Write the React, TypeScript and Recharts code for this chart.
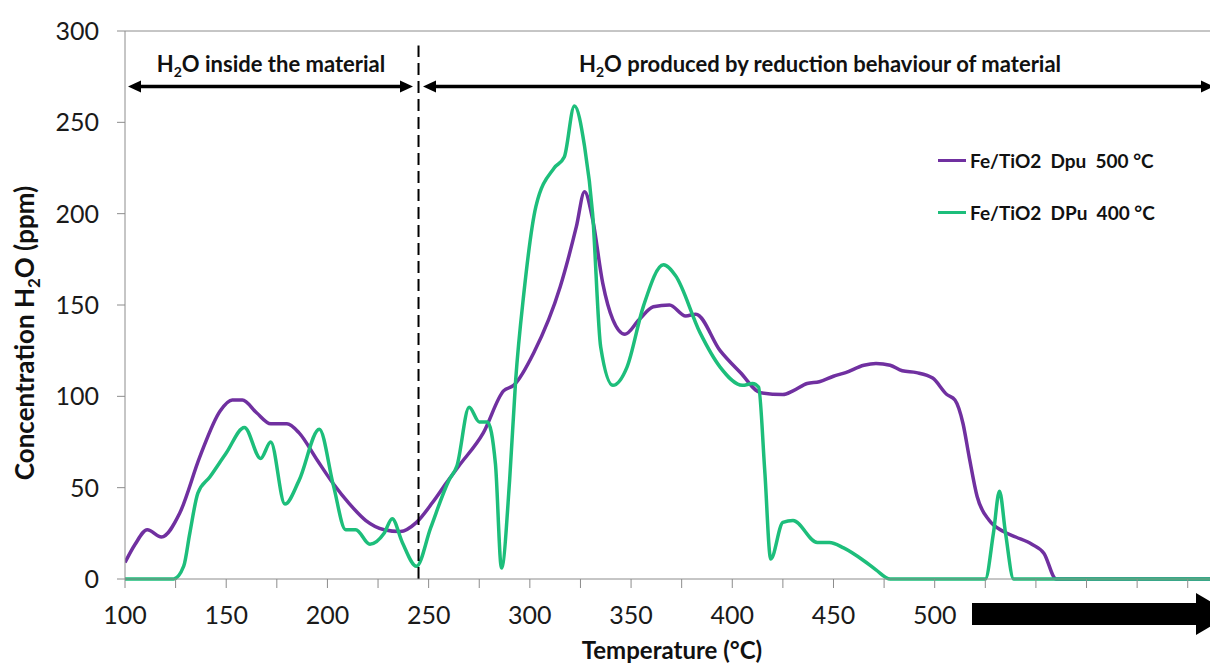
import { LineChart, Line, XAxis, YAxis, ReferenceLine } from "recharts";

// Fe/TiO2 Dpu 500 °C (purple)
const purpleTemps = [100, 105, 111, 118, 127, 137, 147, 153, 158, 165, 172, 180, 186, 195, 203, 211, 219, 228, 236, 244, 252, 259, 265, 277, 287, 292, 302, 315, 323, 327, 331, 336, 341, 347, 354, 361, 369, 377, 382, 394, 404, 414, 425, 430, 437, 443, 450, 456, 465, 471, 478, 484, 491, 499, 506, 510, 514, 517, 521, 527, 534, 540, 548, 554, 560, 636];
const purpleValues = [9, 19, 27, 23, 36, 67, 92, 98, 98, 91, 85, 85, 80, 65, 52, 41, 32, 27, 26, 31, 42, 53, 62, 80, 103, 106, 124, 160, 193, 212, 197, 162, 142, 134, 142, 149, 150, 144, 145, 125, 113, 102, 101, 103, 107, 108, 111, 113, 117, 118, 117, 114, 113, 110, 101, 98, 85, 67, 45, 32, 26, 23, 19, 14, 0, 0];

// Fe/TiO2 DPu 400 °C (green)
const greenTemps = [100, 124, 129, 132, 136, 142, 150, 159, 167, 172, 179, 186, 196, 203, 209, 214, 221, 228, 232, 237, 244, 251, 260, 264, 270, 275, 279, 283, 286, 290, 293, 297, 303, 312, 317, 322, 327, 331, 335, 341, 348, 356, 366, 372, 384, 394, 405, 410, 413, 416, 419, 425, 430, 442, 448, 455, 465, 471, 478, 525, 529, 532, 535, 539, 636];
const greenValues = [0, 0, 7, 25, 47, 56, 69, 83, 66, 75, 41, 54, 82, 51, 27, 27, 19, 25, 33, 20, 7, 28, 54, 62, 94, 86, 86, 63, 6, 54, 109, 156, 204, 225, 231, 259, 237, 200, 127, 106, 116, 149, 172, 166, 135, 116, 106, 107, 105, 60, 11, 31, 32, 20, 20, 17, 10, 5, 0, 0, 25, 48, 25, 0, 0];

const xTicks = [100, 125, 150, 175, 200, 225, 250, 275, 300, 325, 350, 375, 400, 425, 450, 475, 500, 525, 550, 575, 600, 625];
const yTicks = [0, 50, 100, 150, 200, 250, 300];

const FONT = "Lato, 'Open Sans', sans-serif";
const AXIS_GREY = "#8c8c8c";

const series = [
  { name: "Fe/TiO2  Dpu  500 °C", color: "#7030A0", data: purpleTemps.map((t, i) => ({ t, v: purpleValues[i] })) },
  { name: "Fe/TiO2  DPu  400 °C", color: "#1DBE7B", data: greenTemps.map((t, i) => ({ t, v: greenValues[i] })) },
];

const XTick = ({ x, y, payload }: any) => {
  const v = payload.value;
  if (v % 50 !== 0 || v > 500) return <g />;
  return (
    <text x={x} y={y} dy="0.71em" textAnchor="middle" fontSize={25} fontFamily={FONT} fill="#1a1a1a">
      {v}
    </text>
  );
};

const LegendBox = () => (
  <div style={{ position: "absolute", left: 938, top: 146, fontFamily: FONT, fontWeight: 700, fontSize: 19, color: "#111" }}>
    {series.map((s) => (
      <div key={s.name} style={{ display: "flex", alignItems: "center", height: 28, marginBottom: 24 }}>
        <span style={{ display: "inline-block", width: 28, height: 3, background: s.color, marginRight: 4 }} />
        <span style={{ whiteSpace: "pre" }}>{s.name}</span>
      </div>
    ))}
  </div>
);

function Annotations() {
  const ay = 86.5;
  return (
    <svg width={1210} height={666} style={{ position: "absolute", left: 0, top: 0, pointerEvents: "none" }}>
      {/* left double arrow */}
      <line x1={136} y1={ay} x2={405} y2={ay} stroke="#000" strokeWidth={3.5} />
      <polygon points={`128,${ay} 141,${ay - 6} 141,${ay + 6}`} fill="#000" />
      <polygon points={`413,${ay} 400,${ay - 6} 400,${ay + 6}`} fill="#000" />
      {/* right double arrow */}
      <line x1={431} y1={ay} x2={1205} y2={ay} stroke="#000" strokeWidth={3.5} />
      <polygon points={`423,${ay} 436,${ay - 6} 436,${ay + 6}`} fill="#000" />
      <polygon points={`1214,${ay} 1201,${ay - 6} 1201,${ay + 6}`} fill="#000" />

      <text x={271} y={72} textAnchor="middle" fontFamily={FONT} fontWeight={700} fontSize={22} fill="#111">
        H<tspan dy={5} fontSize={14}>2</tspan><tspan dy={-5}>O inside the material</tspan>
      </text>
      <text x={820} y={72} textAnchor="middle" fontFamily={FONT} fontWeight={700} fontSize={22} fill="#111">
        H<tspan dy={5} fontSize={14}>2</tspan><tspan dy={-5}>O produced by reduction behaviour of material</tspan>
      </text>

      {/* y title */}
      <text transform="translate(34,333) rotate(-90)" textAnchor="middle" fontFamily={FONT} fontWeight={700} fontSize={26} fill="#111">
        Concentration H<tspan dy={6} fontSize={17}>2</tspan><tspan dy={-6}>O (ppm)</tspan>
      </text>
      {/* x title */}
      <text x={672} y={659} textAnchor="middle" fontFamily={FONT} fontWeight={700} fontSize={24} fill="#111">
        Temperature (°C)
      </text>

      {/* big arrow over the axis labels beyond 500 */}
      <rect x={972} y={603} width={226} height={22} fill="#000" />
      <polygon points="1196,593 1196,635 1232,614" fill="#000" />
    </svg>
  );
}

export default function App() {
  return (
    <div style={{ position: "absolute", left: 0, top: 0, width: 1210, height: 666, background: "#fff", overflow: "hidden" }}>
      <LineChart width={1210} height={666} margin={{ top: 31, right: 0, bottom: 0, left: 0 }}>
        <XAxis
          type="number"
          dataKey="t"
          domain={[100, 636]}
          ticks={xTicks}
          interval={0}
          allowDataOverflow
          height={87}
          stroke={AXIS_GREY}
          tickSize={9}
          tickMargin={18}
          tick={<XTick />}
        />
        <YAxis
          type="number"
          domain={[0, 300]}
          ticks={yTicks}
          interval={0}
          width={125}
          stroke={AXIS_GREY}
          tickSize={8}
          tickMargin={18}
          tick={{ fontSize: 25, fontFamily: FONT, fill: "#1a1a1a" }}
        />
        <ReferenceLine y={300} stroke={AXIS_GREY} strokeWidth={1} />
        {series.map((s) => (
          <Line
            key={s.name}
            data={s.data}
            dataKey="v"
            name={s.name}
            type="monotone"
            stroke={s.color}
            strokeWidth={3.5}
            dot={false}
            isAnimationActive={false}
          />
        ))}
        <ReferenceLine
          segment={[{ x: 245, y: 0 }, { x: 245, y: 292 }]}
          stroke="#000"
          strokeWidth={2}
          strokeDasharray="12 6"
          ifOverflow="visible"
        />
      </LineChart>
      <LegendBox />
      <Annotations />
    </div>
  );
}
